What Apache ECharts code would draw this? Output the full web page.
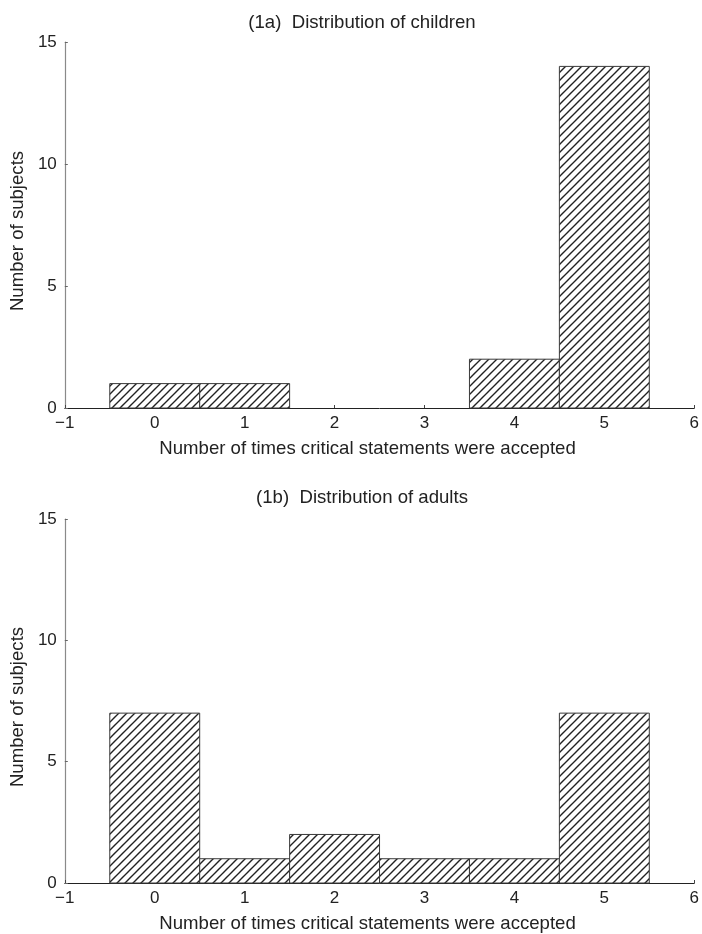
<!DOCTYPE html>
<html>
<head>
<meta charset="utf-8">
<script src="https://cdn.jsdelivr.net/npm/echarts@6/dist/echarts.min.js"></script>
<style>
html,body{margin:0;padding:0;background:#fff;}
#chart{width:702px;height:934px;}
</style>
</head>
<body>
<div id="chart"></div>
<script>
// ---- data ----
const childrenX = [0, 1, 4, 5];
const childrenCounts = [1, 1, 2, 14];
const adultsX = [0, 1, 2, 3, 4, 5];
const adultsCounts = [7, 1, 2, 1, 1, 7];
const xTicks = [-1, 0, 1, 2, 3, 4, 5, 6];
const yTicks = [0, 5, 10, 15];
const titles = ['(1a)  Distribution of children', '(1b)  Distribution of adults'];
const xName = 'Number of times critical statements were accepted';
const yName = 'Number of subjects';

// ---- hatch pattern ----
function makeHatch() {
  const s = 8;
  const c = document.createElement('canvas');
  c.width = s; c.height = s;
  const g = c.getContext('2d');
  g.fillStyle = '#fff';
  g.fillRect(0, 0, s, s);
  g.strokeStyle = '#222';
  g.lineWidth = 1.4;
  g.beginPath();
  g.moveTo(-1, s + 1); g.lineTo(s + 1, -1);
  g.moveTo(-1 - s, s + 1); g.lineTo(1, -1);
  g.moveTo(s - 1, s + 1); g.lineTo(2 * s + 1, -1);
  g.stroke();
  return c;
}
const hatch = makeHatch();

const font = 'Liberation Sans, Arial, Helvetica, sans-serif';
const textColor = '#222';

function toPairs(xs, ys) { return xs.map((x, i) => [x, ys[i]]); }

function renderBar(params, api) {
  const x = api.value(0), y = api.value(1);
  const p0 = api.coord([x - 0.5, 0]);
  const p1 = api.coord([x + 0.5, y]);
  return {
    type: 'rect',
    shape: { x: p0[0], y: p1[1], width: p1[0] - p0[0], height: p0[1] - p1[1] },
    style: { fill: { image: hatch, repeat: 'repeat' }, stroke: '#3a3a3a', lineWidth: 1 }
  };
}

const grids = [
  { left: 63, right: 7, top: 42, height: 366 },
  { left: 63, right: 7, top: 519, height: 366 }
];

function xAxis(i) {
  return {
    type: 'value', gridIndex: i, min: -1, max: 6, interval: 1,
    name: xName, nameLocation: 'middle', nameGap: 31,
    nameTextStyle: { fontFamily: font, fontSize: 18.6, color: textColor, padding: [0, 24, 0, 0] },
    axisLine: { onZero: false, lineStyle: { color: '#222', width: 1 } },
    axisTick: { inside: true, length: 3, lineStyle: { color: '#444' } },
    axisLabel: { fontFamily: font, fontSize: 17, color: textColor, margin: 7,
      formatter: v => (xTicks.includes(v) ? (v < 0 ? '\u2212' + Math.abs(v) : String(v)) : '') },
    splitLine: { show: false }
  };
}
function yAxis(i) {
  return {
    type: 'value', gridIndex: i, min: 0, max: 15, interval: 5,
    name: yName, nameLocation: 'middle', nameGap: 37,
    nameTextStyle: { fontFamily: font, fontSize: 18.6, color: textColor, padding: [0, 12, 0, 0] },
    axisLine: { show: true, onZero: false, lineStyle: { color: '#8a8a8a', width: 1.2 } },
    axisTick: { show: true, inside: true, length: 3, lineStyle: { color: '#666' } },
    axisLabel: { fontFamily: font, fontSize: 17, color: textColor, margin: 8,
      formatter: v => (yTicks.includes(v) ? String(v) : '') },
    splitLine: { show: false }
  };
}

const chart = echarts.init(document.getElementById('chart'), null, { renderer: 'canvas' });
chart.setOption({
  backgroundColor: '#fff',
  animation: false,
  title: [
    { text: titles[0], left: 357, top: 8, textAlign: 'center',
      textStyle: { fontFamily: font, fontSize: 18.6, fontWeight: 'normal', color: textColor } },
    { text: titles[1], left: 357, top: 483, textAlign: 'center',
      textStyle: { fontFamily: font, fontSize: 18.6, fontWeight: 'normal', color: textColor } }
  ],
  grid: grids,
  xAxis: [xAxis(0), xAxis(1)],
  yAxis: [yAxis(0), yAxis(1)],
  series: [
    { type: 'custom', xAxisIndex: 0, yAxisIndex: 0, renderItem: renderBar,
      data: toPairs(childrenX, childrenCounts), clip: false },
    { type: 'custom', xAxisIndex: 1, yAxisIndex: 1, renderItem: renderBar,
      data: toPairs(adultsX, adultsCounts), clip: false }
  ]
});
</script>
</body>
</html>
